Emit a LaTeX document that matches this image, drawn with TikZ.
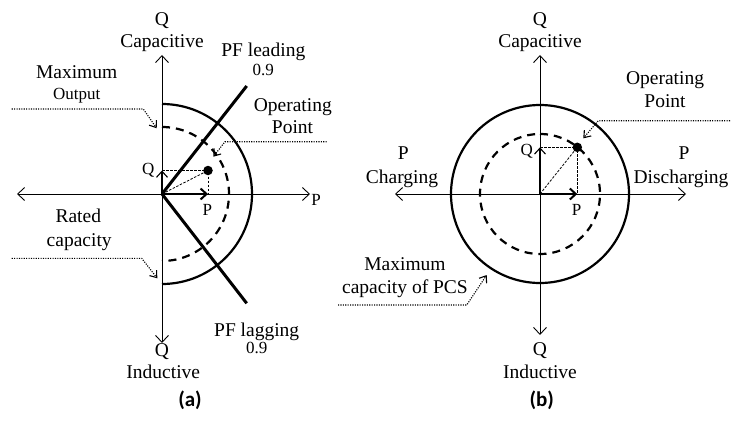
\documentclass[tikz,border=0pt]{standalone}
\usepackage{fontspec}
\setmainfont{Liberation Serif}
\newfontfamily\capfont{Carlito}
\usepackage{tikz}
\usetikzlibrary{arrows.meta,positioning,calc}

\begin{document}
\begin{tikzpicture}[x=1pt,y=1pt,
  txt/.style={font=\fontsize{19.5}{22}\selectfont,inner sep=0pt,anchor=base},
  sml/.style={font=\fontsize{17}{19}\selectfont,inner sep=0pt,anchor=base},
  axis/.style={line width=0.9pt,{Straight Barb[length=7pt,width=13pt]}-{Straight Barb[length=7pt,width=13pt]}},
  limit/.style={line width=2.2pt},
  rated/.style={line width=2.2pt,dash pattern=on 8pt off 6pt},
  pfline/.style={line width=3pt},
  comp/.style={line width=1.1pt,-{Straight Barb[length=6pt,width=11pt]}},
  guide/.style={line width=0.8pt,dash pattern=on 2.5pt off 1.5pt},
  leader/.style={line width=1.1pt,dash pattern=on 1.1pt off 1.3pt,-{Straight Barb[length=6pt,width=9pt]}},
  dot/.style={circle,fill=black,inner sep=0pt,minimum size=9.5pt}]
  \useasboundingbox (0,0) rectangle (731,424);
  % (a)
  \coordinate (Oa) at (162,230);
  \coordinate (aW) at (17,230);
  \coordinate (aE) at (310,230);
  \coordinate (aN) at (162,369);
  \coordinate (aS) at (162,81);
  \draw[axis] (aW) -- (aE);
  \draw[axis] (aS) -- (aN);
  \draw[limit] (162,320) arc[start angle=90,end angle=-90,radius=90];
  \draw[rated] (162,297) arc[start angle=90,end angle=-90,radius=67];
  \coordinate (lead) at (246.7,338);
  \coordinate (lag) at (246.7,120.7);
  \draw[pfline] (Oa) -- (lead);
  \draw[pfline] (Oa) -- (lag);
  \node[dot] (opa) at (208,253.5) {};
  \coordinate (qa) at (162,253.5);
  \coordinate (pa) at (208,230);
  \draw[guide] (qa) -- (opa.center) -- (pa);
  \draw[guide] (Oa) -- (opa.center);
  \draw[comp] (Oa) -- (qa);
  \draw[comp,line width=2pt] (Oa) -- (pa);
  \node[txt] (aqtop) at (162,398) {Q};
  \node[txt] (acap) at (162,376) {Capacitive};
  \node[txt] (alead) at (263.3,367.3) {PF leading};
  \node[sml] (aleadv) at (263.3,348) {0.9};
  \node[txt] (amax) at (76.7,345.7) {Maximum};
  \node[sml] (aout) at (76.7,324.7) {Output};
  \node[txt] (aop) at (292.8,312.3) {Operating};
  \node[txt] (apt) at (292.5,290.7) {Point};
  \node[sml] (aq) at (148.3,250) {Q};
  \node[sml] (ap) at (207.3,209) {P};
  \node[sml] (apaxis) at (316,219) {P};
  \node[txt] (arated) at (78.3,201.3) {Rated};
  \node[txt] (acapy) at (79.2,178) {capacity};
  \node[txt] (alag) at (256.7,88) {PF lagging};
  \node[sml] (alagv) at (256.7,71) {0.9};
  \node[txt] (aqbot) at (162,68) {Q};
  \node[txt] (aind) at (163.3,45.7) {Inductive};
  \node[inner sep=0pt,anchor=base,font=\capfont\bfseries\fontsize{21}{24}\selectfont] (capa) at (190,18) {(a)};
  \coordinate (m1) at (11.7,315);
  \coordinate (m2) at (143.3,315);
  \coordinate (m3) at (156.7,295.7);
  \draw[leader] (m1) -- (m2) -- (m3);
  \coordinate (o1) at (326.7,282.3);
  \coordinate (o2) at (225,282.3);
  \coordinate (o3) at (213.3,267.3);
  \draw[leader] (o1) -- (o2) -- (o3);
  \coordinate (r1) at (11.7,165.7);
  \coordinate (r2) at (141.7,165.7);
  \coordinate (r3) at (157.3,145.7);
  \draw[leader] (r1) -- (r2) -- (r3);
  % (b)
  \coordinate (Ob) at (540,230);
  \coordinate (bW) at (395,230);
  \coordinate (bE) at (686,230);
  \coordinate (bN) at (540,369);
  \coordinate (bS) at (540,89);
  \draw[axis] (bW) -- (bE);
  \draw[axis] (bS) -- (bN);
  \draw[limit] (Ob) circle[radius=89];
  \draw[rated] (540,290) arc[start angle=90,end angle=-270,radius=60];
  \node[dot] (opb) at (577.3,276.7) {};
  \coordinate (qb) at (540,276.7);
  \coordinate (pb) at (577.3,230);
  \draw[guide] (qb) -- (opb.center) -- (pb);
  \draw[guide] (Ob) -- (opb.center);
  \draw[comp] (Ob) -- (qb);
  \draw[comp,line width=2pt] (Ob) -- (pb);
  \node[txt] (bqtop) at (540,398) {Q};
  \node[txt] (bcap) at (540,376) {Capacitive};
  \node[txt] (bop) at (665,339) {Operating};
  \node[txt] (bpt) at (665,316.3) {Point};
  \node[txt] (bpl) at (403.3,264.7) {P};
  \node[txt] (bchg) at (402,240.7) {Charging};
  \node[txt] (bpr) at (684,264.7) {P};
  \node[txt] (bdis) at (681,240.7) {Discharging};
  \node[sml] (bq) at (526.7,269) {Q};
  \node[sml] (bp) at (576.7,209) {P};
  \node[txt] (bmax) at (405,154) {Maximum};
  \node[txt] (bpcs) at (405,130.7) {capacity of PCS};
  \node[txt] (bqbot) at (540,69) {Q};
  \node[txt] (bind) at (540,45.7) {Inductive};
  \node[inner sep=0pt,anchor=base,font=\capfont\bfseries\fontsize{21}{24}\selectfont] (capb) at (541.7,18) {(b)};
  \coordinate (s1) at (730,303.3);
  \coordinate (s2) at (598.3,303.3);
  \coordinate (s3) at (583.3,285.7);
  \draw[leader] (s1) -- (s2) -- (s3);
  \coordinate (c1) at (338,119);
  \coordinate (c2) at (466.7,119);
  \coordinate (c3) at (486.7,149);
  \draw[leader] (c1) -- (c2) -- (c3);
\end{tikzpicture}
\end{document}
